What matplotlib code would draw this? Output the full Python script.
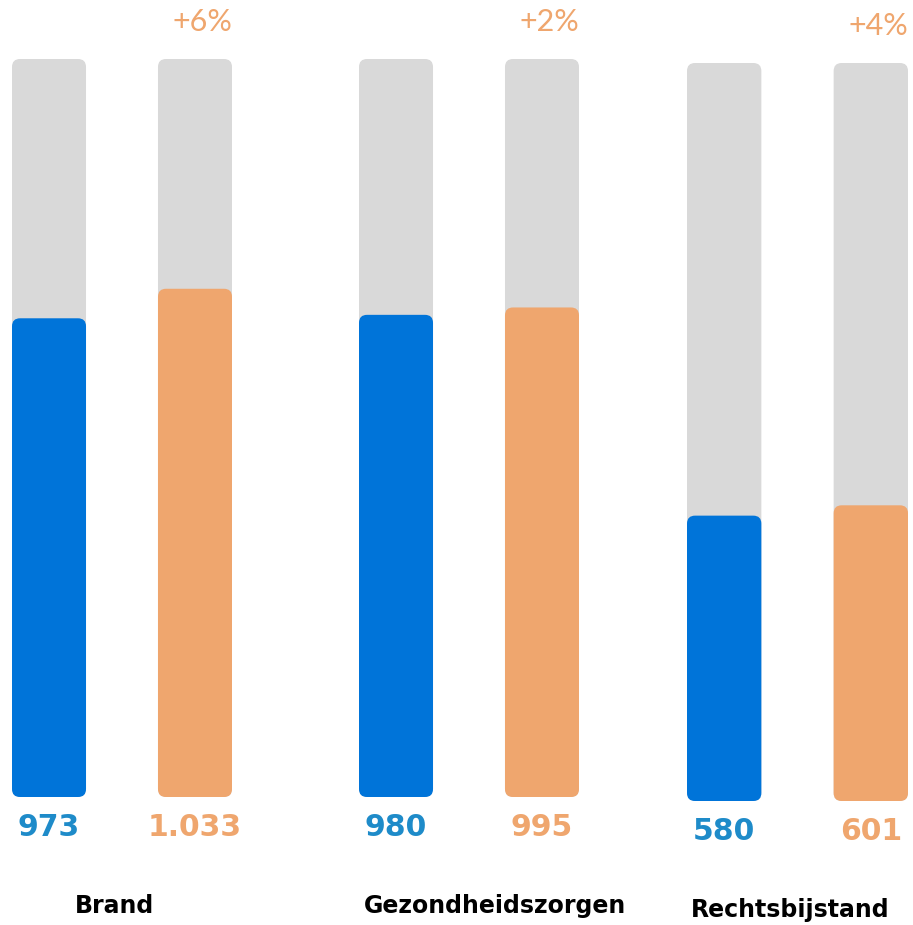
import matplotlib.pyplot as plt
from matplotlib.patches import FancyBboxPatch

categories = ["Brand", "Gezondheidszorgen", "Rechtsbijstand"]
vorig = [973, 980, 580]
huidig = [1033, 995, 601]
vorig_labels = ["973", "980", "580"]
huidig_labels = ["1.033", "995", "601"]
groei = ["+6%", "+2%", "+4%"]
schaal_max = 1500

BLUE = "#0074D9"
BLUE_TXT = "#1E8BC9"
ORANGE = "#EFA66E"
GRAY = "#D9D9D9"

W, H = 913, 925
fig = plt.figure(figsize=(W / 100, H / 100), dpi=100)

# pixel layout per group: left, right, top of gray bar, bottom of bars
groups = [(12, 232, 59, 797), (359, 579, 59, 797), (687, 908, 63, 801)]
label_x = [114, 495, 790]
label_y = [906, 906, 910]

bw = 0.507
radius_px = 8

for i, (l, r, t, b) in enumerate(groups):
    ax = fig.add_axes([l / W, (H - b) / H, (r - l) / W, (b - t) / H])
    ax.set_xlim(-bw / 2, 1 + bw / 2)
    ax.set_ylim(0, schaal_max)
    ax.axis("off")

    px_x = (r - l) / (1 + bw)
    px_y = (b - t) / schaal_max
    rs = radius_px / px_x
    aspect = px_x / px_y

    for j, (val, col) in enumerate([(vorig[i], BLUE), (huidig[i], ORANGE)]):
        for height, c in [(schaal_max, GRAY), (val, col)]:
            ax.add_patch(FancyBboxPatch((j - bw / 2, 0), bw, height,
                                        boxstyle="round,pad=0,rounding_size=%f" % rs,
                                        mutation_aspect=aspect, fc=c, ec="none",
                                        clip_on=False))

    ax.text(0, -30 / px_y, vorig_labels[i], ha="center", va="center",
            fontsize=21.5, fontweight="bold", color=BLUE_TXT)
    ax.text(1, -30 / px_y, huidig_labels[i], ha="center", va="center",
            fontsize=21.5, fontweight="bold", color=ORANGE)
    ax.text(1 + bw / 2, schaal_max + 37 / px_y, groei[i], ha="right", va="center",
            fontsize=22, family="Lato", color=ORANGE)

    fig.text(label_x[i] / W, (H - label_y[i]) / H, categories[i], ha="center",
             va="center", fontsize=17, fontweight="bold", color="black")

fig.savefig("out.png", dpi=100)
